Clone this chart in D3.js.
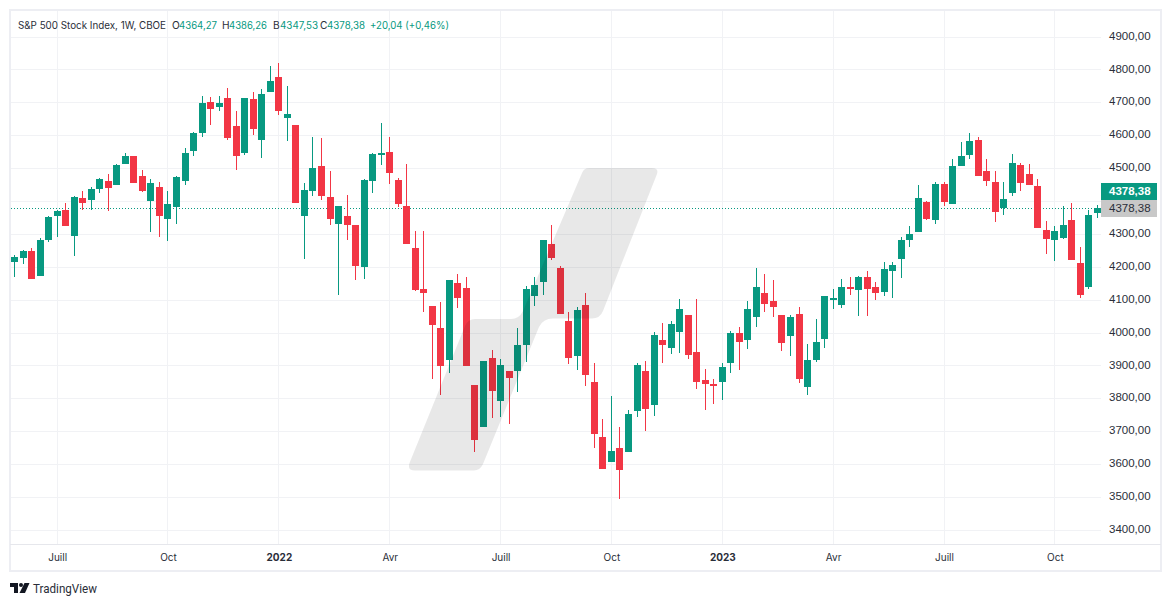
<!DOCTYPE html>
<html><head><meta charset="utf-8">
<script src="https://cdn.jsdelivr.net/npm/d3@7/dist/d3.min.js"></script>
<style>
html,body{margin:0;padding:0;background:#fff;overflow:hidden}
svg{display:block}
text{font-family:Inter,"Noto Sans",sans-serif}
</style></head><body>
<svg id="c" width="1171" height="606"></svg>
<script>
const opens=[4214,4227,4248,4172,4281,4354,4373,4294,4409,4403,4436,4461,4449,4512,4537,4476,4400,4442,4345,4382,4461,4552,4607,4701,4686,4713,4628,4546,4710,4585,4731,4777,4652,
4631,4354,4430,4506,4412,4330,4354,4327,4199,4461,4540,4549,4464,4385,4257,4132,4081,4014,3917,4151,4135,3841,3713,3923,3792,3883,3883,3962,4111,4154,4269,4196,4035,
3929,4084,3850,3682,3606,3649,3637,3762,3883,3780,3977,3953,4002,4053,3941,3856,3844,3850,3907,3999,3977,4047,4120,4096,4053,3990,4056,3835,3917,3980,4099,
4084,4138,4129,4169,4138,4123,4187,4224,4281,4306,4397,4342,4452,4391,4506,4540,4585,4491,4458,4379,4424,4509,4482,4446,4312,4281,4287,4342,4211,4138,4364.27];
const highs=[4236,4251,4257,4288,4354,4373,4394,4415,4430,4442,4470,4482,4512,4546,4537,4494,4467,4458,4430,4476,4561,4610,4719,4716,4719,4744,4674,4713,4731,4740,4810,4819,4750,
4631,4455,4594,4591,4491,4385,4418,4327,4467,4546,4637,4594,4470,4512,4309,4309,4081,4093,4160,4178,4169,3841,3914,3947,3920,3883,4014,4142,4169,4281,4327,4202,4063,
4078,4120,3907,3737,3807,3713,3765,3907,3914,4002,4029,4035,4102,4053,4102,3889,3859,3907,4005,4017,4096,4196,4178,4160,4053,4053,4078,3965,4041,4111,4132,
4163,4169,4172,4187,4154,4214,4214,4290,4324,4449,4400,4458,4458,4528,4579,4607,4594,4528,4491,4458,4543,4515,4512,4467,4339,4324,4385,4394,4260,4373,4386.26];
const lows=[4169,4208,4163,4172,4275,4290,4324,4233,4373,4373,4424,4370,4449,4512,4455,4427,4306,4290,4278,4330,4449,4537,4595,4631,4674,4585,4494,4540,4601,4531,4731,4661,4582,
4394,4224,4415,4403,4327,4114,4281,4160,4163,4424,4509,4452,4382,4269,4126,4063,3859,3810,3877,4075,3898,3637,3713,3740,3743,3722,3819,3910,4081,4114,4221,4056,3904,
3886,3838,3649,3585,3606,3494,3637,3743,3701,3746,3907,3935,3938,3920,3828,3765,3783,3795,3877,3886,3950,4017,4062,4047,3944,3929,3847,3810,3910,3953,4072,
4075,4114,4050,4050,4099,4111,4105,4166,4260,4306,4342,4330,4385,4391,4506,4528,4476,4446,4336,4357,4415,4430,4449,4318,4239,4218,4284,4221,4105,4132,4347.53];
const closes=[4230,4248,4163,4281,4351,4370,4324,4412,4394,4436,4467,4439,4509,4537,4455,4430,4455,4354,4391,4473,4546,4607,4698,4680,4698,4592,4537,4713,4619,4725,4765,4674,4664,
4394,4433,4500,4415,4345,4385,4327,4202,4464,4543,4546,4485,4391,4269,4129,4120,4023,3898,4160,4105,3898,3673,3914,3822,3901,3862,3962,4132,4145,4281,4227,4056,3923,
4069,3871,3692,3585,3640,3582,3752,3901,3768,3993,3962,4026,4072,3932,3850,3844,3838,3895,3999,3971,4072,4138,4087,4078,3968,4047,3859,3917,3971,4111,4105,
4138,4132,4169,4132,4120,4193,4205,4281,4300,4409,4345,4452,4397,4506,4537,4582,4476,4461,4366,4406,4515,4455,4449,4318,4284,4309,4327,4221,4114,4357,4378.38];

const gridPrices=[3400,3500,3600,3700,3800,3900,4000,4100,4200,4300,4400,4500,4600,4700,4800,4900];
const labelPrices=[3400,3500,3600,3700,3800,3900,4000,4100,4200,4300,4500,4600,4700,4800,4900];
const timeTickIndex=[5,18,31,44,57,70,83,96,109,122];
const timeTickLabels=["Juill","Oct","2022","Avr","Juill","Oct","2023","Avr","Juill","Oct"];
const legendTitle="S&P 500 Stock Index, 1W, CBOE";
const legendKeys=["O","H","B","C"];
const legendValues=["4364,27","4386,26","4347,53","4378,38"];
const legendChange="+20,04 (+0,46%)";
const lastPrice=4378.38, lastPriceLabel="4378,38";

const UP="#089981",DOWN="#F23645",GRID="#F1F2F5",BORDER="#EDEEF3",INK="#2A2E39";
const svg=d3.select("#c");
const x=d3.scaleLinear().domain([0,opens.length-1]).range([14.5,1097.5]);
const y=d3.scaleLinear().domain([3400,4900]).range([529.85,36.5]);
const px=i=>Math.floor(x(i))+.5;
const py=v=>Math.round(y(v));

// grid
const grid=svg.append("g").attr("stroke",GRID).attr("stroke-width",1).attr("shape-rendering","crispEdges");
grid.selectAll(".h").data(gridPrices).join("line").attr("x1",11).attr("x2",1101).attr("y1",d=>py(d)+.5).attr("y2",d=>py(d)+.5);
grid.selectAll(".v").data(timeTickIndex).join("line").attr("x1",d=>px(d)).attr("x2",d=>px(d)).attr("y1",11).attr("y2",544);

// last price line
svg.append("line").attr("x1",11).attr("x2",1101).attr("y1",py(lastPrice)+.5).attr("y2",py(lastPrice)+.5)
  .attr("stroke",UP).attr("stroke-width",1).attr("stroke-dasharray","1 2");

// candles
const idx=d3.range(opens.length);
const col=i=>closes[i]>=opens[i]?UP:DOWN;
const cs=svg.append("g").attr("shape-rendering","crispEdges");
cs.selectAll("line").data(idx).join("line")
  .attr("x1",px).attr("x2",px).attr("y1",i=>py(highs[i])).attr("y2",i=>py(lows[i]))
  .attr("stroke",col).attr("stroke-width",1);
cs.selectAll("rect").data(idx).join("rect")
  .attr("x",i=>px(i)-3.5).attr("width",7)
  .attr("y",i=>py(Math.max(opens[i],closes[i])))
  .attr("height",i=>Math.max(2,py(Math.min(opens[i],closes[i]))-py(Math.max(opens[i],closes[i]))))
  .attr("fill",col);

// watermark (over everything in the pane)
svg.append("path").attr("fill","#000").attr("fill-opacity",.09)
  .attr("d","M589,168 L652,168 Q659,168 657,174 L603,311 Q600,318.5 592,318.5 L553,318.5 Q543,318.5 539,327 L483,464 Q480,470.5 474,470.5 L415,470.5 Q407,470.5 409.5,463 L465,326 Q468,319 475,319 L511,319 Q519,319 523,311 L582,173 Q584,168 589,168 Z");

// frame
svg.append("g").attr("fill","none").attr("shape-rendering","crispEdges").call(g=>{
  g.append("rect").attr("x",10).attr("y",10).attr("width",1151).attr("height",561).attr("stroke",BORDER).attr("stroke-width",2);
  g.append("line").attr("x1",10).attr("x2",1161).attr("y1",544).attr("y2",544).attr("stroke","#E6E7EC").attr("stroke-width",1);
});

// price axis
const yAxis=d3.axisRight(y).tickValues(labelPrices).tickSize(0).tickPadding(0)
  .tickFormat(d=>d3.format(".2f")(d).replace(".",","));
svg.append("g").attr("transform","translate(1109,-1)").call(yAxis).call(g=>{
  g.select(".domain").remove();
  g.selectAll("text").attr("fill","#2A2E39").style("font-family","'Liberation Sans'").style("font-size","11.5px");
});

// time axis
const xAxis=d3.axisBottom(x).tickValues(timeTickIndex).tickSize(0).tickPadding(0)
  .tickFormat(d=>timeTickLabels[timeTickIndex.indexOf(d)]);
svg.append("g").attr("transform","translate(0,554)").call(xAxis).call(g=>{
  g.select(".domain").remove();
  g.selectAll("text").attr("fill","#2A2E39").style("font-size","10px")
   .style("font-weight",d=>/^\d/.test(timeTickLabels[timeTickIndex.indexOf(d)])?"700":"400");
});

// last price labels
const lab=svg.append("g");
lab.append("rect").attr("x",1101).attr("y",183).attr("width",56).attr("height",17).attr("fill",UP);
lab.append("rect").attr("x",1101).attr("y",200).attr("width",56).attr("height",17).attr("fill","#C8C8C8");
lab.append("text").attr("x",1109).attr("y",195).attr("fill","#fff").style("font-family","'Liberation Sans'").style("font-size","11.5px").style("font-weight","700").text(lastPriceLabel);
lab.append("text").attr("x",1109).attr("y",212).attr("fill","#2A2E39").style("font-family","'Liberation Sans'").style("font-size","11.5px").text(lastPriceLabel);

// legend
const leg=svg.append("g").style("font-size","10.2px");
const put=(tx,w,fill,s)=>leg.append("text").attr("x",tx).attr("y",29).attr("fill",fill).attr("textLength",w).attr("lengthAdjust","spacingAndGlyphs").text(s);
put(18,148,INK,legendTitle);
[172,222,273,320].forEach((fx,i)=>{
  leg.append("text").attr("x",fx).attr("y",29).attr("fill",INK).text(legendKeys[i]);
  put(fx+7,38,UP,legendValues[i]);
});
put(370,79,UP,legendChange);

// logo
const logo=svg.append("g").attr("fill","#131722");
logo.append("path").attr("d","M10,583 H18 V593 H14 V587 H10 Z");
logo.append("circle").attr("cx",21).attr("cy",585).attr("r",2);
logo.append("path").attr("d","M24.5,583 H29.5 L25,593 H19.5 Z");
logo.append("text").attr("x",33).attr("y",593).style("font-family","Roboto").style("font-weight","400").style("font-size","13px").attr("fill","#2A2E39").attr("textLength",64).attr("lengthAdjust","spacingAndGlyphs").text("TradingView");
</script>
</body></html>
